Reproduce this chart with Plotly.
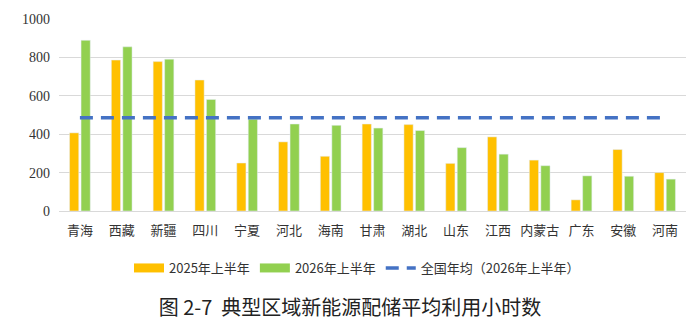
import plotly.graph_objects as go

regions = ["青海", "西藏", "新疆", "四川", "宁夏", "河北", "海南", "甘肃", "湖北", "山东", "江西", "内蒙古", "广东", "安徽", "河南"]
h2025 = [407, 786, 778, 682, 250, 360, 285, 453, 450, 248, 386, 265, 58, 320, 200]
h2026 = [889, 855, 791, 581, 478, 453, 446, 432, 419, 330, 296, 236, 183, 181, 166]
national_avg_2026 = 486
y_ticks = [0, 200, 400, 600, 800, 1000]

name25 = "2025年上半年"
name26 = "2026年上半年"
name_avg = "全国年均（2026年上半年）"

ORANGE = "#FFC000"
GREEN = "#92D050"
BLUE = "#4472C4"
CJK = "Noto Sans CJK SC"

fig = go.Figure()
fig.add_trace(go.Bar(x=regions, y=h2025, name=name25, marker_color=ORANGE, showlegend=False))
fig.add_trace(go.Bar(x=regions, y=h2026, name=name26, marker_color=GREEN, showlegend=False))
fig.add_trace(go.Scatter(x=regions, y=[national_avg_2026] * len(regions), mode="lines",
                         line=dict(color=BLUE, width=3.5, dash="13px,8px"), showlegend=False,
                         hoverinfo="skip"))
# legend proxies
fig.add_trace(go.Scatter(x=[None], y=[None], mode="lines", name=name25,
                         line=dict(color=ORANGE, width=9)))
fig.add_trace(go.Scatter(x=[None], y=[None], mode="lines", name=name26,
                         line=dict(color=GREEN, width=9)))
fig.add_trace(go.Scatter(x=[None], y=[None], mode="lines", name=name_avg,
                         line=dict(color=BLUE, width=3.5, dash="13px,8px")))

fig.update_layout(
    width=700, height=325,
    margin=dict(l=59, r=14, t=16, b=114),
    paper_bgcolor="white", plot_bgcolor="white",
    barmode="group", bargap=0.45, bargroupgap=0.2,
    font=dict(family=CJK, size=13, color="#404040"),
    title=dict(text="图 2-7  典型区域新能源配储平均利用小时数", x=0.5, xref="container",
               y=1 - 308 / 325, yref="container", xanchor="center", yanchor="middle",
               font=dict(family=CJK, size=20, color="#222222")),
    legend=dict(orientation="h", x=0.51, xref="container", xanchor="center",
                y=1 - 268 / 325, yref="container", yanchor="middle",
                font=dict(family=CJK, size=13, color="#333333"),
                itemwidth=30, traceorder="normal", tracegroupgap=0,
                bgcolor="rgba(0,0,0,0)"),
    xaxis=dict(showgrid=False, showline=False, ticks="", ticklabelstandoff=10,
               tickfont=dict(family=CJK, size=13, color="#333333")),
    yaxis=dict(range=[0, 1000], tickvals=y_ticks, showgrid=True, gridcolor="#d9d9d9",
               gridwidth=1, zeroline=True, zerolinecolor="#d9d9d9", zerolinewidth=1,
               showline=False, ticks="", ticklabelstandoff=8,
               tickfont=dict(family="Liberation Serif", size=14, color="#333333")),
)

fig.write_html("out.html")
